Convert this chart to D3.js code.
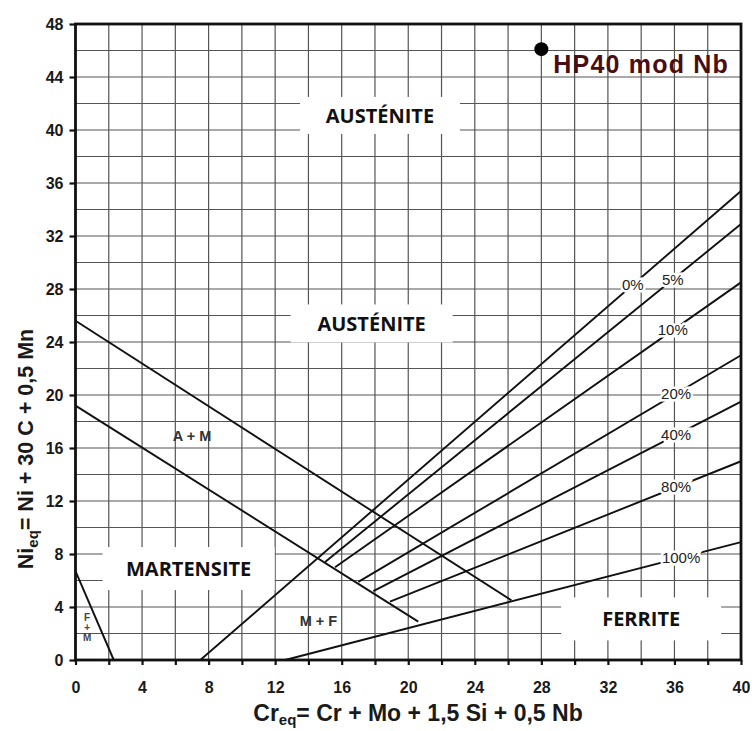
<!DOCTYPE html>
<html>
<head>
<meta charset="utf-8">
<script src="https://cdn.jsdelivr.net/npm/d3@7"></script>
<style>
  body { margin: 0; background: #fff; }
  svg { display: block; }
</style>
</head>
<body>
<div id="chart"></div>
<script>
// axis ticks
const xTicks = d3.range(0, 41, 4)
const yTicks = d3.range(0, 49, 4)
const gridX = d3.range(0, 41, 2)
const gridY = d3.range(0, 49, 2)

// phase boundaries (Cr_eq, Ni_eq)
const martensiteUpper = [[0, 25.6], [26.2, 4.5]]
const martensiteLower = [[0, 19.2], [20.6, 2.9]]
const ferriteMartensite = [[0, 6.7], [2.3, 0]]

// ferrite % lines
const ferriteNames = ['0%', '5%', '10%', '20%', '40%', '80%', '100%']
const ferriteStart = [[7.5, 0], [15.0, 7.4], [15.6, 7.0], [17.0, 5.9], [17.9, 5.2], [18.9, 4.4], [12.6, 0]]
const ferriteEnd = [[40, 35.4], [40, 32.9], [40, 28.5], [40, 23.0], [40, 19.5], [40, 15.0], [40, 8.9]]
const ferriteLabelX = [33.5, 35.9, 35.9, 36.1, 36.1, 36.1, 36.4]

// phase regions
const regionNames = ['AUSTÉNITE', 'AUSTÉNITE', 'MARTENSITE', 'FERRITE']
const regionPos = [[18.3, 41.1], [17.8, 25.4], [6.8, 6.9], [34.0, 3.1]]
const smallNames = ['A + M', 'M + F']
const smallPos = [[7.0, 16.9], [14.6, 2.95]]

// alloy point
const alloyName = 'HP40 mod Nb'
const alloyPoint = [28.0, 46.1]

const width = 754
const height = 731
const margin = {left: 75.5, right: 13, top: 24, bottom: 71}

const svg = d3.select('#chart')
    .append('svg')
    .attr('width', width)
    .attr('height', height)

const x = d3.scaleLinear().domain([0, 40]).range([margin.left, width - margin.right])
const y = d3.scaleLinear().domain([0, 48]).range([height - margin.bottom, margin.top])

// grid
const grid = svg.append('g').attr('stroke', '#555').attr('stroke-width', 1.2)
grid.selectAll('.gx').data(gridX).join('line')
    .attr('x1', d => x(d)).attr('x2', d => x(d))
    .attr('y1', y(0)).attr('y2', y(48))
grid.selectAll('.gy').data(gridY).join('line')
    .attr('x1', x(0)).attr('x2', x(40))
    .attr('y1', d => y(d)).attr('y2', d => y(d))

// white boxes behind region names
const boxSize = [[160, 37], [162, 38], [172, 43], [160, 43]]
svg.append('g').selectAll('rect').data(regionPos).join('rect')
    .attr('x', (d, i) => x(d[0]) - boxSize[i][0] / 2)
    .attr('y', (d, i) => y(d[1]) - boxSize[i][1] / 2)
    .attr('width', (d, i) => boxSize[i][0])
    .attr('height', (d, i) => boxSize[i][1])
    .attr('fill', '#fff')

// boundary lines
const line = d3.line().x(d => x(d[0])).y(d => y(d[1]))
const boundaries = [martensiteUpper, martensiteLower, ferriteMartensite]
    .concat(ferriteNames.map((n, i) => [ferriteStart[i], ferriteEnd[i]]))

svg.append('g')
    .attr('fill', 'none')
    .attr('stroke', '#111')
    .attr('stroke-width', 1.9)
    .selectAll('path')
    .data(boundaries)
    .join('path')
    .attr('d', line)

// percentage labels sitting on the lines
const pctY = (i, xv) => {
    const [x0, y0] = ferriteStart[i]
    const [x1, y1] = ferriteEnd[i]
    return y0 + (y1 - y0) * (xv - x0) / (x1 - x0)
}
svg.append('g')
    .selectAll('text')
    .data(ferriteNames)
    .join('text')
    .attr('x', (d, i) => x(ferriteLabelX[i]))
    .attr('y', (d, i) => y(pctY(i, ferriteLabelX[i])))
    .attr('dy', '0.35em')
    .attr('text-anchor', 'middle')
    .attr('font-family', 'Liberation Sans, Arial, sans-serif')
    .attr('font-size', 15)
    .attr('fill', '#222')
    .attr('stroke', '#fff')
    .attr('stroke-width', 5)
    .attr('paint-order', 'stroke')
    .text(d => d)

// region names
svg.append('g')
    .selectAll('text')
    .data(regionNames)
    .join('text')
    .attr('x', (d, i) => x(regionPos[i][0]))
    .attr('y', (d, i) => y(regionPos[i][1]))
    .attr('dy', '0.36em')
    .attr('text-anchor', 'middle')
    .attr('font-family', 'Open Sans, sans-serif')
    .attr('font-weight', 'bold')
    .attr('font-size', 20)
    .attr('fill', '#111')
    .text(d => d)

svg.append('g')
    .selectAll('text')
    .data(smallNames)
    .join('text')
    .attr('x', (d, i) => x(smallPos[i][0]))
    .attr('y', (d, i) => y(smallPos[i][1]))
    .attr('dy', '0.35em')
    .attr('text-anchor', 'middle')
    .attr('font-family', 'Liberation Sans, Arial, sans-serif')
    .attr('font-weight', 'bold')
    .attr('font-size', 14.5)
    .attr('fill', '#333')
    .text(d => d)

// tiny F + M stacked label
svg.append('text')
    .attr('x', x(0.7))
    .attr('y', y(2.95))
    .attr('text-anchor', 'middle')
    .attr('font-family', 'Liberation Sans, Arial, sans-serif')
    .attr('font-weight', 'bold')
    .attr('font-size', 10)
    .attr('fill', '#444')
    .selectAll('tspan')
    .data(['F', '+', 'M'])
    .join('tspan')
    .attr('x', x(0.7))
    .attr('dy', (d, i) => i ? 10 : 0)
    .text(d => d)

// axes
const xAxis = svg.append('g')
    .attr('transform', `translate(0,${y(0)})`)
    .call(d3.axisBottom(x).tickValues(gridX).tickSize(5).tickPadding(17)
        .tickFormat(d => d % 4 === 0 ? d : ''))
const yAxis = svg.append('g')
    .attr('transform', `translate(${x(0)},0)`)
    .call(d3.axisLeft(y).tickValues(yTicks).tickSize(6).tickPadding(6))

for (const ax of [xAxis, yAxis]) {
    ax.select('.domain').remove()
    ax.selectAll('.tick line').attr('stroke', '#111').attr('stroke-width', 2.2)
    ax.selectAll('.tick text')
        .attr('font-family', 'Liberation Sans, Arial, sans-serif')
        .attr('font-weight', 'bold')
        .attr('font-size', 16)
        .attr('fill', '#1a1a1a')
}

// frame
svg.append('rect')
    .attr('x', x(0)).attr('y', y(48))
    .attr('width', x(40) - x(0)).attr('height', y(0) - y(48))
    .attr('fill', 'none')
    .attr('stroke', '#111')
    .attr('stroke-width', 2.8)

// axis titles
const yTitle = svg.append('text')
    .attr('transform', 'translate(33,449) rotate(-90)')
    .attr('text-anchor', 'middle')
    .attr('font-family', 'Liberation Sans, Arial, sans-serif')
    .attr('font-weight', 'bold')
    .attr('font-size', 21.5)
    .attr('fill', '#1a1a1a')
yTitle.append('tspan').text('Ni')
yTitle.append('tspan').attr('font-size', 15).attr('dy', 5).text('eq')
yTitle.append('tspan').attr('dy', -5).text('= Ni + 30 C + 0,5 Mn')

const xTitle = svg.append('text')
    .attr('x', 418)
    .attr('y', 721)
    .attr('text-anchor', 'middle')
    .attr('font-family', 'Liberation Sans, Arial, sans-serif')
    .attr('font-weight', 'bold')
    .attr('font-size', 23)
    .attr('fill', '#1a1a1a')
xTitle.append('tspan').text('Cr')
xTitle.append('tspan').attr('font-size', 15).attr('dy', 4).text('eq')
xTitle.append('tspan').attr('dy', -4).text('= Cr + Mo + 1,5 Si + 0,5 Nb')

// alloy point
svg.append('circle')
    .attr('cx', x(alloyPoint[0]))
    .attr('cy', y(alloyPoint[1]))
    .attr('r', 7)
    .attr('fill', '#000')
svg.append('text')
    .attr('x', x(alloyPoint[0]) + 12)
    .attr('y', y(alloyPoint[1]) + 24)
    .attr('font-family', 'Liberation Sans, Arial, sans-serif')
    .attr('font-weight', 'bold')
    .attr('font-size', 25)
    .attr('letter-spacing', 1.2)
    .attr('fill', '#4a0d10')
    .text(alloyName)
</script>
</body>
</html>
